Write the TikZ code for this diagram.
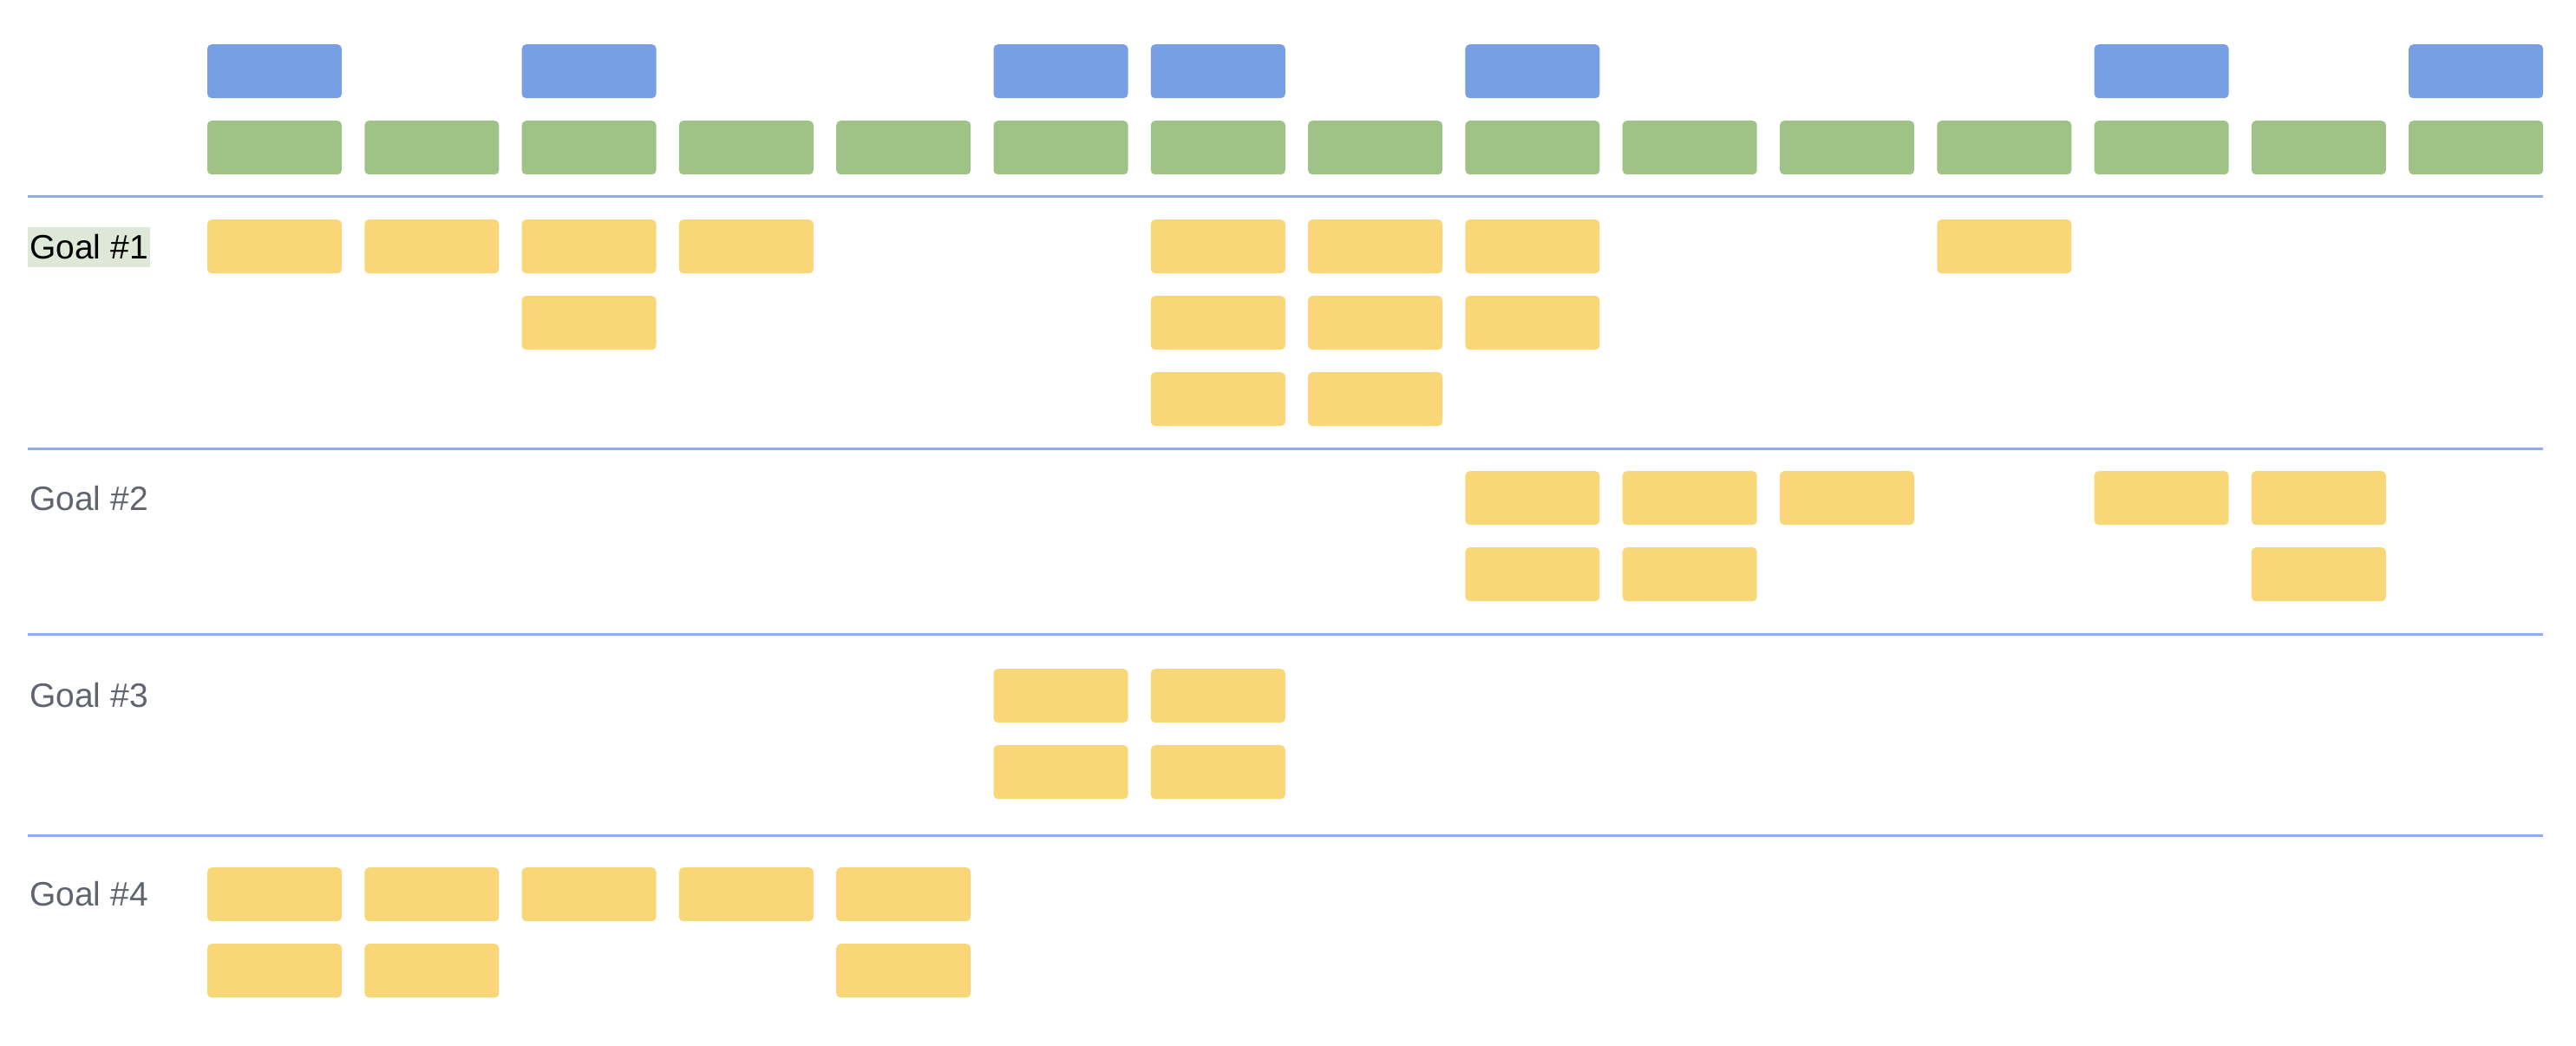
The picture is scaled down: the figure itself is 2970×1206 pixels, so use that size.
\documentclass[tikz,border=0pt]{standalone}
\usepackage{fontspec}
\setmainfont{Liberation Sans}
\definecolor{boxblue}{HTML}{779FE3}
\definecolor{boxgreen}{HTML}{9FC387}
\definecolor{boxyellow}{HTML}{F9D778}
\definecolor{sepblue}{HTML}{8FAEE6}
\definecolor{hilite}{HTML}{DDE9D6}
\definecolor{goalgray}{HTML}{5F6470}
\begin{document}
\begin{tikzpicture}[x=1pt,y=-1pt,
  card/.style={rectangle, rounded corners=5pt, minimum width=155pt, minimum height=62pt, inner sep=0pt, anchor=north west, draw=none},
  bluecard/.style={card, fill=boxblue},
  greencard/.style={card, fill=boxgreen},
  yellowcard/.style={card, fill=boxyellow},
  sepline/.style={draw=sepblue, line width=3pt},
  goal/.style={font=\fontsize{39}{47}\selectfont, text=goalgray, anchor=west, inner xsep=2pt, inner ysep=0pt, minimum height=46pt}]
\useasboundingbox (0,0) rectangle (2970,1206);
% top rows
\foreach \c in {1,3,6,7,9,13,15}
  \node[bluecard] (blue\c) at ({238.8+(\c-1)*181.3},51) {};
\foreach \c in {1,...,15}
  \node[greencard] (green\c) at ({238.8+(\c-1)*181.3},139) {};
% separators
\foreach \i/\y in {1/226.7,2/517.7,3/731.7,4/963.7}{
  \coordinate (sepL\i) at (32,\y);
  \coordinate (sepR\i) at (2932,\y);
  \draw[sepline] (sepL\i) -- (sepR\i);
}
% goal labels
\node[goal, fill=hilite, text=black] (goal1) at (32,285) {Goal \#1};
\node[goal] (goal2) at (32,575) {Goal \#2};
\node[goal] (goal3) at (32,802) {Goal \#3};
\node[goal] (goal4) at (32,1031) {Goal \#4};
% goal 1
\foreach \c in {1,2,3,4,7,8,9,12}
  \node[yellowcard] (ga-1-\c) at ({238.8+(\c-1)*181.3},253) {};
\foreach \c in {3,7,8,9}
  \node[yellowcard] (ga-2-\c) at ({238.8+(\c-1)*181.3},341) {};
\foreach \c in {7,8}
  \node[yellowcard] (ga-3-\c) at ({238.8+(\c-1)*181.3},429) {};
% goal 2
\foreach \c in {9,10,11,13,14}
  \node[yellowcard] (gb-1-\c) at ({238.8+(\c-1)*181.3},543) {};
\foreach \c in {9,10,14}
  \node[yellowcard] (gb-2-\c) at ({238.8+(\c-1)*181.3},631) {};
% goal 3
\foreach \c in {6,7}
  \node[yellowcard] (gc-1-\c) at ({238.8+(\c-1)*181.3},771) {};
\foreach \c in {6,7}
  \node[yellowcard] (gc-2-\c) at ({238.8+(\c-1)*181.3},859) {};
% goal 4
\foreach \c in {1,...,5}
  \node[yellowcard] (gd-1-\c) at ({238.8+(\c-1)*181.3},1000) {};
\foreach \c in {1,2,5}
  \node[yellowcard] (gd-2-\c) at ({238.8+(\c-1)*181.3},1088) {};
\end{tikzpicture}
\end{document}
